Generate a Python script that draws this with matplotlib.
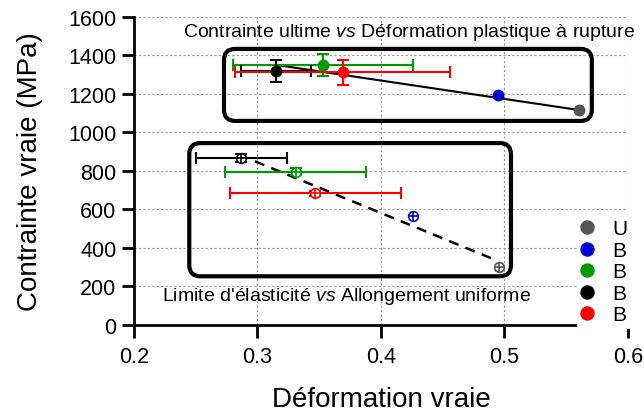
import numpy as np
import matplotlib
matplotlib.use("Agg")
import matplotlib.pyplot as plt
from matplotlib.patches import FancyBboxPatch

plt.rcParams['font.family'] = ['Liberation Sans', 'DejaVu Sans']
plt.rcParams['mathtext.fontset'] = 'custom'
plt.rcParams['mathtext.it'] = 'Liberation Sans:italic'
plt.rcParams['mathtext.rm'] = 'Liberation Sans'

# labels and colours of the five series
labels = ["U", "B", "B", "B", "B"]
colors = ["#555555", "#0000cc", "#009900", "#000000", "#ff0000"]

# ultimate stress vs plastic strain at fracture
uts_x = [0.560, 0.495, 0.353, 0.315, 0.369]
uts_y = [1117, 1196, 1351, 1318, 1313]
uts_xerr = [0.0, 0.0, 0.073, 0.028, 0.087]
uts_yerr = [0, 0, 58, 56, 65]

# yield strength vs uniform elongation
ys_x = [0.496, 0.426, 0.331, 0.287, 0.347]
ys_y = [300, 566, 797, 866, 684]
ys_xerr = [0.0, 0.0, 0.057, 0.037, 0.069]
ys_yerr = [0, 0, 20, 20, 12]

# trend lines
fit_top_x = [0.315, 0.560]
fit_top_y = [1351, 1117]
fit_bot_x = [0.298, 0.490]
fit_bot_y = [850, 345]

fig = plt.figure(figsize=(6.44, 4.14), dpi=100)
ax = fig.add_axes([0.208, 0.2126, 0.767, 0.744])

ax.plot(fit_top_x, fit_top_y, color='black', lw=1.5, zorder=2)
ax.plot(fit_bot_x, fit_bot_y, color='black', lw=1.8, ls=(0, (4, 3)), zorder=2)

handles = []
for i in range(5):
    c = colors[i]
    if uts_xerr[i] > 0:
        ax.errorbar(uts_x[i], uts_y[i], xerr=uts_xerr[i], yerr=uts_yerr[i],
                    fmt='none', ecolor=c, elinewidth=1.5, capsize=4.5, capthick=1.5, zorder=3)
        ax.errorbar(ys_x[i], ys_y[i], xerr=ys_xerr[i], yerr=ys_yerr[i],
                    fmt='none', ecolor=c, elinewidth=1.5, capsize=4.5, capthick=1.5, zorder=3)
    h, = ax.plot(uts_x[i], uts_y[i], 'o', color=c, ms=7.5, zorder=4, label=labels[i])
    ax.plot(ys_x[i], ys_y[i], 'o', mfc='white', mec=c, mew=1.2, ms=7, zorder=4)
    ax.plot(ys_x[i], ys_y[i], '+', color=c, mew=1.2, ms=7, zorder=5)
    handles.append(h)

# rounded frames around each group (aspect = MPa per strain unit on screen)
aspect = (1600 / 308) / (0.4 / 494)
for (x0, y0, w, hgt) in [(0.2729, 1060, 0.2979, 374), (0.2448, 253, 0.2605, 692)]:
    ax.add_patch(FancyBboxPatch((x0, y0), w, hgt,
                                boxstyle="round,pad=0,rounding_size=0.009",
                                mutation_aspect=aspect,
                                fill=False, lw=3, ec='black', zorder=6))

ax.text(0.423, 1522, "Contrainte ultime $\\it{vs}$ Déformation plastique à rupture",
        ha='center', va='center', fontsize=14)
ax.text(0.3725, 151, "Limite d'élasticité $\\it{vs}$ Allongement uniforme",
        ha='center', va='center', fontsize=14)

ax.set_xlim(0.2, 0.6)
ax.set_ylim(0, 1600)
ax.set_xticks([0.2, 0.3, 0.4, 0.5, 0.6])
ax.set_xticklabels(["0.2", "0.3", "0.4", "0.5", "0.6"])
ax.set_yticks(np.arange(0, 1601, 200))
ax.grid(True, color='#999999', ls=(0, (2, 2)), lw=0.8)
ax.set_axisbelow(True)

for s in ['top', 'right']:
    ax.spines[s].set_visible(False)
for s in ['left', 'bottom']:
    ax.spines[s].set_linewidth(2)
ax.tick_params(direction='out', length=9, width=2, labelsize=15.5)
ax.tick_params(axis='x', pad=6)

ax.set_xlabel("Déformation vraie", fontsize=20, labelpad=14)
ax.set_ylabel("Contrainte vraie (MPa)", fontsize=20, labelpad=18)

leg = ax.legend(handles=handles, loc='upper left', bbox_to_anchor=(0.876, 0.39),
                frameon=True, facecolor='white', edgecolor='none', framealpha=1,
                fontsize=15, handlelength=0.6, handletextpad=0.9, markerscale=1.25,
                labelspacing=0.12, borderpad=0.2)
leg.set_zorder(10)

fig.savefig("out.png", dpi=100)
